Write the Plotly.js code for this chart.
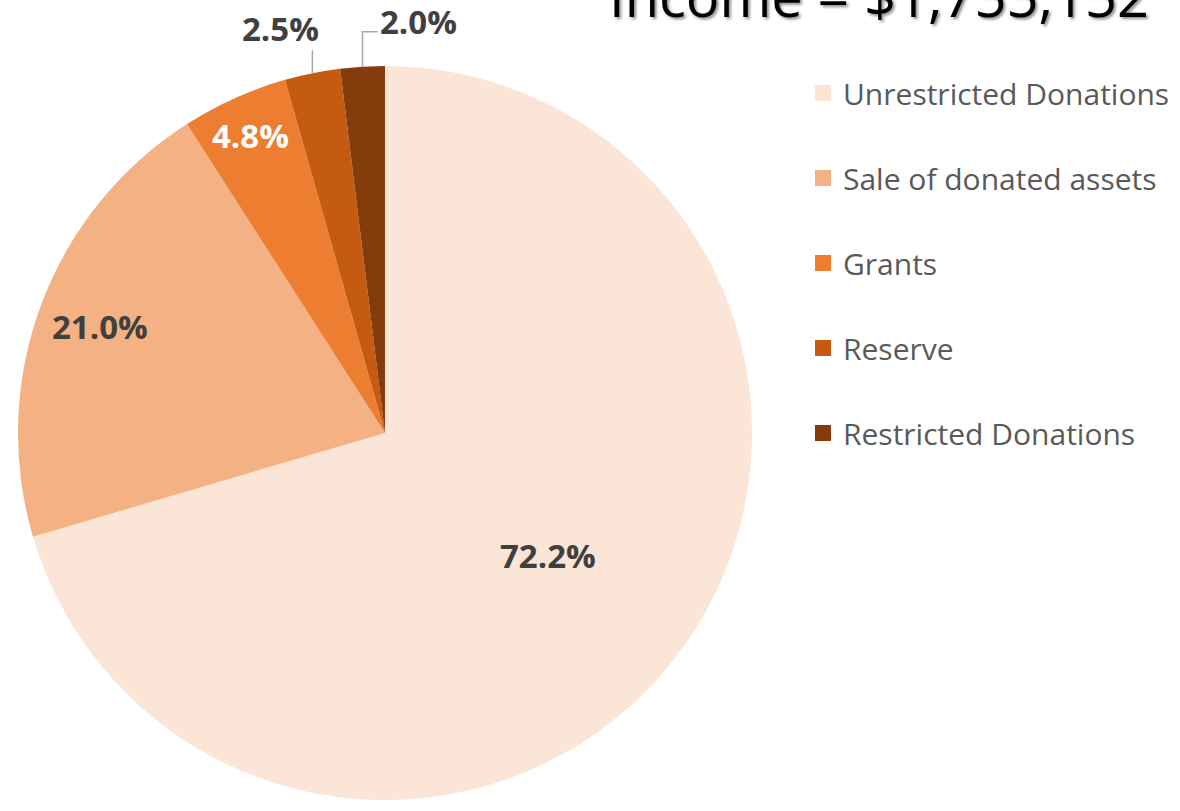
<!DOCTYPE html>
<html><head><meta charset="utf-8">
<script src="https://cdn.plot.ly/plotly-3.0.1.min.js"></script>
<style>html,body{margin:0;padding:0;background:#fff;} #chart{width:1180px;height:811px;}</style>
</head><body><div id="chart"></div>
<script>
// ---- data ----
const categories = ['Unrestricted Donations', 'Sale of donated assets', 'Grants', 'Reserve', 'Restricted Donations'];
const percentages = [72.2, 21.0, 4.8, 2.5, 2.0];
const colors = ['#FBE5D6', '#F4B183', '#ED7D31', '#C55A11', '#843C0C'];
const titleText = 'Income = $1,755,152';

// ---- layout / style ----
const W = 1180, H = 811;
const cx = 385, cy = 433, R = 367;
const domX = [(cx - R) / W, (cx + R) / W];
const domY = [(H - cy - R) / H, (H - cy + R) / H];
const labelStyle = [
  {inside: true, rf: 0.556, color: '#404040'},
  {inside: true, rf: 0.83, color: '#404040'},
  {inside: true, rf: 0.89, color: '#FFFFFF'},
  {inside: false, dx: -32, dy: -45, path: [[0, 0], [0, -23]]},
  {inside: false, dx: 56, dy: -45, path: [[0, 0], [0, -35], [15, -35]]}
];

const total = percentages.reduce((a, b) => a + b, 0);
let cum = 0;
const annotations = [];
const shapes = [];
const px = (x) => x / W, py = (y) => 1 - y / H;
percentages.forEach((v, i) => {
  const a0 = cum / total * 2 * Math.PI;
  cum += v;
  const a1 = cum / total * 2 * Math.PI;
  const mid = (a0 + a1) / 2;
  const st = labelStyle[i];
  const txt = v.toFixed(1) + '%';
  if (st.inside) {
    const x = cx + st.rf * R * Math.sin(mid), y = cy - st.rf * R * Math.cos(mid);
    annotations.push({xref: 'paper', yref: 'paper', x: px(x), y: py(y), xanchor: 'center', yanchor: 'middle',
      text: txt, showarrow: false, font: {family: 'Open Sans', size: 33, weight: 700, color: st.color}});
  } else {
    const ex = cx + R * Math.sin(mid), ey = cy - R * Math.cos(mid);
    annotations.push({xref: 'paper', yref: 'paper', x: px(ex + st.dx), y: py(ey + st.dy), xanchor: 'center', yanchor: 'middle',
      text: txt, showarrow: false, font: {family: 'Open Sans', size: 33, weight: 700, color: '#404040'}});
    const d = st.path.map((p, k) => (k ? 'L' : 'M') + px(ex + p[0]).toFixed(5) + ',' + py(ey + p[1]).toFixed(5)).join(' ');
    shapes.push({type: 'path', xref: 'paper', yref: 'paper', path: d, line: {color: '#A6A6A6', width: 1.5}});
  }
});

annotations.push({xref: 'paper', yref: 'paper', x: 607 / W, y: 1 + 5 / H, xanchor: 'left', yanchor: 'middle',
  text: titleText, showarrow: false,
  font: {family: 'Open Sans', size: 56, color: '#000000', shadow: '2px 2px 3px rgba(0,0,0,0.45)'}});

const traces = [{
  type: 'pie', labels: categories, values: percentages, sort: false, direction: 'clockwise', rotation: 0,
  marker: {colors: colors, line: {width: 0}}, textinfo: 'none', showlegend: false,
  domain: {x: domX, y: domY}, hoverinfo: 'label+percent'
}];
categories.forEach((c, i) => traces.push({
  type: 'scatter', x: [null], y: [null], mode: 'markers', name: c, legendgroup: 'g' + i,
  marker: {symbol: 'square', size: 17, color: colors[i]}, showlegend: true, hoverinfo: 'skip'
}));

const layout = {
  width: W, height: H, margin: {l: 0, r: 0, t: 0, b: 0}, paper_bgcolor: '#FFFFFF', plot_bgcolor: 'rgba(0,0,0,0)',
  xaxis: {visible: false}, yaxis: {visible: false},
  showlegend: true,
  legend: {x: 803 / W, xanchor: 'left', y: 1 - 67 / H, yanchor: 'top', traceorder: 'grouped', tracegroupgap: 43,
    font: {family: 'Open Sans', size: 30, color: '#595959'}, bgcolor: 'rgba(0,0,0,0)', borderwidth: 0},
  annotations: annotations, shapes: shapes
};
Plotly.newPlot('chart', traces, layout, {displayModeBar: false, staticPlot: true});
</script></body></html>
